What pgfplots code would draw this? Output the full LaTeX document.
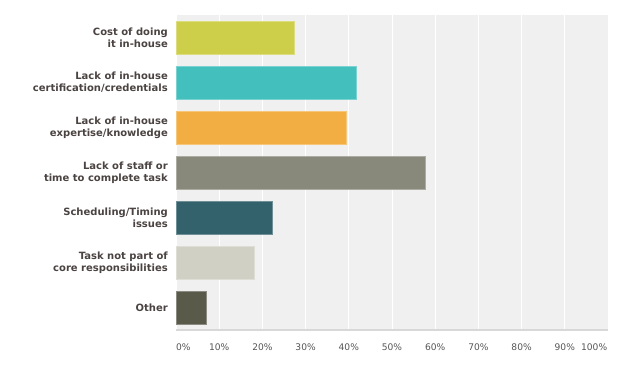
\documentclass[border=0pt]{standalone}
\usepackage{pgfplots}
\pgfplotsset{compat=1.18}
\usepackage{fontspec}
\setmainfont{DejaVu Sans}
\definecolor{bggray}{HTML}{F0F0F0}
\definecolor{baseline}{HTML}{D8D8D8}
\definecolor{labcol}{HTML}{4A4341}
\definecolor{tickcol}{HTML}{555555}
\definecolor{c1}{HTML}{CDCE4A}
\definecolor{c2}{HTML}{43BFBE}
\definecolor{c3}{HTML}{F2AE42}
\definecolor{c4}{HTML}{88897A}
\definecolor{c5}{HTML}{33616C}
\definecolor{c6}{HTML}{D1D0C5}
\definecolor{c7}{HTML}{5A5A4B}
\begin{document}
\begin{tikzpicture}
\path[use as bounding box] (0,0) rectangle (618pt,-370pt);
\begin{axis}[
  at={(176pt,-15pt)}, anchor=north west,
  width=432pt, height=315pt, scale only axis,
  xmin=0, xmax=100, ymin=0.5, ymax=7.5,
  xbar, bar width=33pt, bar shift=0pt,
  axis x line*=bottom,
  x axis line style={draw=baseline, line width=2pt, -},
  y axis line style={draw=none},
  axis background/.style={fill=bggray},
  xtick={0,10,...,100}, xticklabels={},
  xmajorgrids, grid style={white, line width=1pt},
  major tick length=0pt,
  extra x ticks={1.7,10,20,30,40,50,60,70,80,90,96.8},
  extra x tick labels={0\%,10\%,20\%,30\%,40\%,50\%,60\%,70\%,80\%,90\%,100\%},
  extra x tick style={grid=none, major tick length=0pt},
  xticklabel style={anchor=north, inner sep=0pt, yshift=-14pt, font=\fontsize{9.1}{11}\selectfont, text=tickcol},
  ytick={1,...,7},
  yticklabels={Other,{Task not part of\\core responsibilities},{Scheduling/Timing\\issues},{Lack of staff or\\time to complete task},{Lack of in-house\\expertise/knowledge},{Lack of in-house\\certification/credentials},{Cost of doing\\it in-house}},
  yticklabel style={align=right, anchor=east, inner sep=0pt, xshift=-8pt, font=\fontsize{10}{12}\selectfont\bfseries, text=labcol},
]
\addplot[fill=c1, draw=c1!70!white] coordinates {(27.3,7)};
\addplot[fill=c2, draw=c2!70!white] coordinates {(41.7,6)};
\addplot[fill=c3, draw=c3!70!white] coordinates {(39.4,5)};
\addplot[fill=c4, draw=c4!70!white] coordinates {(57.6,4)};
\addplot[fill=c5, draw=c5!70!white] coordinates {(22.2,3)};
\addplot[fill=c6, draw=c6!70!white] coordinates {(18.0,2)};
\addplot[fill=c7, draw=c7!70!white] coordinates {(6.9,1)};
\end{axis}
\end{tikzpicture}
\end{document}
